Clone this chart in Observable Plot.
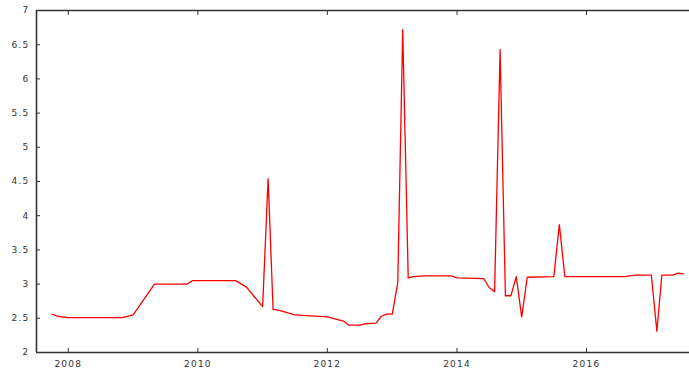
<!DOCTYPE html>
<html>
<head>
<meta charset="utf-8">
<script src="https://cdn.jsdelivr.net/npm/d3@7"></script>
<script src="https://cdn.jsdelivr.net/npm/@observablehq/plot@0.6"></script>
<style>
  html, body { margin: 0; padding: 0; background: #fff; }
  svg text { letter-spacing: 1.2px; }
</style>
</head>
<body>
<div id="chart"></div>
<script>
// Observed vertices of the monthly series (year-month, value)
const months = [
  "2007-10","2007-11","2008-01","2008-11","2009-01","2009-05","2009-11","2009-12",
  "2010-08","2010-10","2011-01","2011-02","2011-03","2011-04","2011-07","2012-01",
  "2012-04","2012-05","2012-07","2012-08","2012-10","2012-11","2012-12","2013-01",
  "2013-02","2013-03","2013-04","2013-05","2013-07","2013-12","2014-01","2014-06",
  "2014-07","2014-08","2014-09","2014-10","2014-11","2014-12","2015-01","2015-02",
  "2015-07","2015-08","2015-09","2016-08","2016-10","2017-01","2017-02","2017-03",
  "2017-05","2017-06","2017-07"
];
const values = [
  2.56, 2.53, 2.51, 2.51, 2.55, 3.00, 3.00, 3.05,
  3.05, 2.96, 2.67, 4.54, 2.63, 2.62, 2.55, 2.52,
  2.46, 2.40, 2.40, 2.42, 2.43, 2.53, 2.56, 2.56,
  3.02, 6.72, 3.09, 3.11, 3.12, 3.12, 3.09, 3.08,
  2.95, 2.89, 6.43, 2.83, 2.83, 3.11, 2.52, 3.10,
  3.11, 3.87, 3.11, 3.11, 3.13, 3.13, 2.31, 3.13,
  3.13, 3.16, 3.15
];
const xDomain = ["2007-07-06", "2017-08-04"];
const yDomain = [2, 7];
const yTicks = [2, 2.5, 3, 3.5, 4, 4.5, 5, 5.5, 6, 6.5, 7];
const xTickYears = [2008, 2010, 2012, 2014, 2016];

const parse = d3.utcParse("%Y-%m");
const data = months.map((m, i) => ({date: parse(m), value: values[i]}));
const xd = xDomain.map(d => d3.utcParse("%Y-%m-%d")(d));
const xTicks = xTickYears.map(y => new Date(Date.UTC(y, 0, 1)));

const axisColor = "#333";
const chart = Plot.plot({
  width: 689,
  height: 369,
  marginLeft: 36,
  marginRight: 0,
  marginTop: 10,
  marginBottom: 17,
  style: {fontFamily: "DejaVu Sans", fontSize: "9px", color: axisColor, background: "#fff"},
  x: {type: "utc", domain: xd},
  y: {domain: yDomain},
  marks: [
    Plot.axisY({ticks: yTicks, tickSize: 0, tickPadding: 7, tickFormat: d => String(d), label: null, fill: axisColor}),
    Plot.axisY({ticks: yTicks, tickSize: -4, text: null, label: null, stroke: axisColor}),
    Plot.axisX({ticks: xTicks, tickSize: 0, tickPadding: 8, tickFormat: d3.utcFormat("%Y"), label: null, fill: axisColor}),
    Plot.axisX({ticks: xTicks, tickSize: -4, text: null, label: null, stroke: axisColor}),
    Plot.axisX({ticks: xTicks, anchor: "top", tickSize: -4, text: null, label: null, stroke: axisColor}),
    Plot.ruleY(yDomain, {stroke: axisColor, strokeWidth: 1.6}),
    Plot.ruleX([xd[0]], {stroke: axisColor, strokeWidth: 1.6}),
    Plot.line(data, {x: "date", y: "value", stroke: "#ff0000", strokeWidth: 1.3})
  ]
});
document.getElementById("chart").appendChild(chart);
</script>
</body>
</html>
